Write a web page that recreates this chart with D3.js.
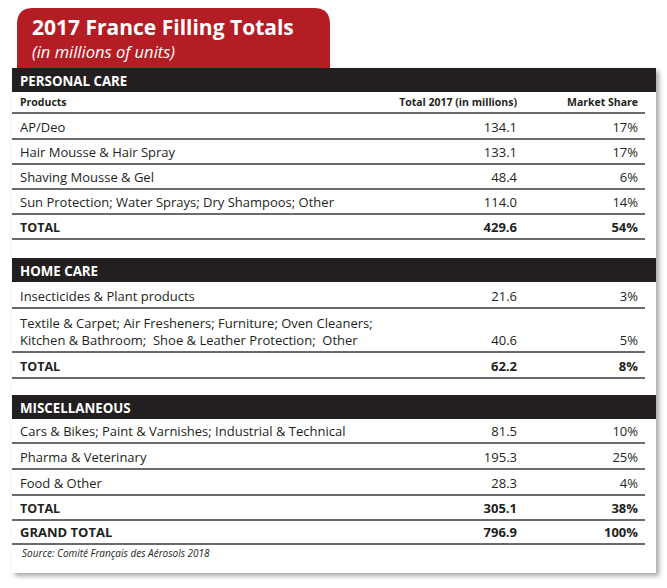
<!DOCTYPE html>
<html><head><meta charset="utf-8">
<script src="https://cdn.jsdelivr.net/npm/d3@7"></script>
<style>html,body{margin:0;padding:0;background:#fff;}svg{display:block;}</style>
</head><body>
<svg id="c" width="667" height="588"></svg>
<script>
const title = "2017 France Filling Totals";
const subtitle = "(in millions of units)";
const sections = ["PERSONAL CARE", "HOME CARE", "MISCELLANEOUS"];
const columnHeaders = ["Products", "Total 2017 (in millions)", "Market Share"];

const personalProducts = ["AP/Deo", "Hair Mousse & Hair Spray", "Shaving Mousse & Gel", "Sun Protection; Water Sprays; Dry Shampoos; Other"];
const personalTotals = [134.1, 133.1, 48.4, 114.0];
const personalShares = [17, 17, 6, 14];
const personalSum = [429.6, 54];

const homeProducts = ["Insecticides & Plant products", "Textile & Carpet; Air Fresheners; Furniture; Oven Cleaners;\nKitchen & Bathroom;  Shoe & Leather Protection;  Other"];
const homeTotals = [21.6, 40.6];
const homeShares = [3, 5];
const homeSum = [62.2, 8];

const miscProducts = ["Cars & Bikes; Paint & Varnishes; Industrial & Technical", "Pharma & Veterinary", "Food & Other"];
const miscTotals = [81.5, 195.3, 28.3];
const miscShares = [10, 25, 4];
const miscSum = [305.1, 38];

const grandTotal = [796.9, 100];
const source = "Source: Comité Français des Aérosols 2018";

const FONT = "'Open Sans', sans-serif";
const svg = d3.select("#c");
const defs = svg.append("defs");
const f = defs.append("filter").attr("id", "sh").attr("x", "-5%").attr("y", "-5%").attr("width", "115%").attr("height", "115%");
f.append("feDropShadow").attr("dx", 3).attr("dy", 3).attr("stdDeviation", 2.5).attr("flood-color", "#000").attr("flood-opacity", 0.35);

const left = 12, right = 656;
const colText = 20, colVal = 517, colShare = 638, lineRight = 645;

// build rows
const rows = [];
rows.push({type: "section", label: sections[0], h: 24});
rows.push({type: "colhead", h: 21});
personalProducts.forEach((p, i) => rows.push({type: "item", label: p, v: personalTotals[i], s: personalShares[i], h: i === 0 ? 26 : 25}));
rows.push({type: "total", label: "TOTAL", v: personalSum[0], s: personalSum[1], h: 25});
rows.push({type: "gap", h: 19});
rows.push({type: "section", label: sections[1], h: 24});
homeProducts.forEach((p, i) => rows.push({type: "item", label: p, v: homeTotals[i], s: homeShares[i], h: p.includes("\n") ? 44 : 26}));
rows.push({type: "total", label: "TOTAL", v: homeSum[0], s: homeSum[1], h: 26});
rows.push({type: "gap", h: 17});
rows.push({type: "section", label: sections[2], h: 24});
miscProducts.forEach((p, i) => rows.push({type: "item", label: p, v: miscTotals[i], s: miscShares[i], h: i === 0 ? 24 : 26}));
rows.push({type: "total", label: "TOTAL", v: miscSum[0], s: miscSum[1], h: 25});
rows.push({type: "total", label: "GRAND TOTAL", v: grandTotal[0], s: grandTotal[1], h: 24, big: true});

// y positions through a linear scale over cumulative row offsets
let acc = 0;
rows.forEach(r => { r.o0 = acc; acc += r.h; r.o1 = acc; });
const y = d3.scaleLinear().domain([0, acc]).range([68, 68 + acc]);
const tableBottom = y(acc);

// red tab
const tx0 = 17, tx1 = 330, ty0 = 8, ty1 = 80, rad = 16;
svg.append("path")
  .attr("d", `M${tx0},${ty1} L${tx0},${ty0 + rad} Q${tx0},${ty0} ${tx0 + rad},${ty0} L${tx1 - rad},${ty0} Q${tx1},${ty0} ${tx1},${ty0 + rad} L${tx1},${ty1} Z`)
  .attr("fill", "#b51d24");
svg.append("text").attr("x", 32).attr("y", 35).attr("fill", "#fff")
  .attr("font-family", FONT).attr("font-weight", 700).attr("font-size", 21).text(title);
svg.append("text").attr("x", 32).attr("y", 57.5).attr("fill", "#fff")
  .attr("font-family", FONT).attr("font-style", "italic").attr("font-size", 16.5).text(subtitle);

// panel
svg.append("rect").attr("x", left).attr("y", 68).attr("width", right - left).attr("height", 573 - 68)
  .attr("fill", "#fff").attr("filter", "url(#sh)");

const fmt = d3.format(".1f");
const g = svg.append("g");
rows.forEach(r => {
  const y0 = y(r.o0), y1 = y(r.o1);
  if (r.type === "section") {
    g.append("rect").attr("x", left).attr("y", y0).attr("width", right - left).attr("height", y1 - y0).attr("fill", "#231f20");
    g.append("text").attr("x", colText).attr("y", y1 - 6.5).attr("fill", "#fff")
      .attr("font-family", FONT).attr("font-weight", 700).attr("font-size", 13.3).text(r.label);
    return;
  }
  if (r.type === "gap") return;
  const base = y1 - 7.5;
  if (r.type === "colhead") {
    const t = g.append("g").attr("font-family", FONT).attr("font-weight", 700).attr("font-size", 10.5).attr("fill", "#231f20");
    t.append("text").attr("x", colText).attr("y", y1 - 7).text(columnHeaders[0]);
    t.append("text").attr("x", colVal).attr("y", y1 - 7).attr("text-anchor", "end").text(columnHeaders[1]);
    t.append("text").attr("x", colShare).attr("y", y1 - 7).attr("text-anchor", "end").text(columnHeaders[2]);
  } else {
    const bold = r.type === "total";
    const t = g.append("g").attr("font-family", FONT).attr("font-size", 13).attr("fill", "#231f20")
      .attr("font-weight", bold ? 700 : 400);
    const lines = r.label.split("\n");
    lines.forEach((ln, i) => {
      t.append("text").attr("x", colText).attr("y", base - (lines.length - 1 - i) * 17)
        .attr("font-size", r.big ? 13 : (bold ? 12.5 : 13)).attr("xml:space", "preserve").text(ln);
    });
    t.append("text").attr("x", colVal).attr("y", base).attr("text-anchor", "end").text(fmt(r.v));
    t.append("text").attr("x", colShare).attr("y", base).attr("text-anchor", "end").text(r.s + "%");
  }
  g.append("line").attr("x1", left).attr("x2", lineRight).attr("y1", y1).attr("y2", y1)
    .attr("stroke", "#3a3a3a").attr("stroke-width", 1.6);
});

svg.append("text").attr("x", 22).attr("y", tableBottom + 13).attr("fill", "#231f20")
  .attr("font-family", FONT).attr("font-style", "italic").attr("font-size", 10).text(source);
</script>
</body></html>
